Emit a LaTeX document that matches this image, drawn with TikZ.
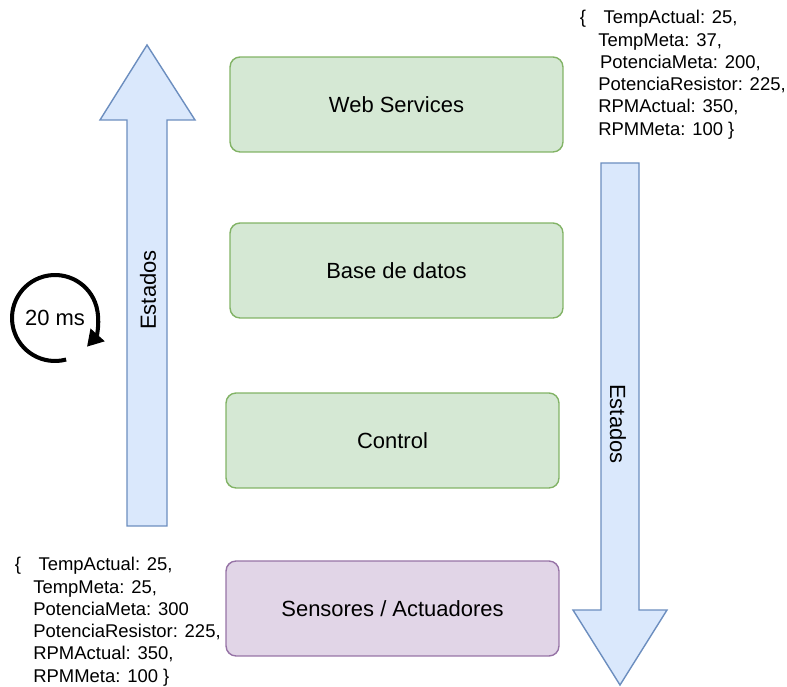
\documentclass[tikz,border=0pt]{standalone}
\usepackage{fontspec}
\setmainfont{Liberation Sans}
\usetikzlibrary{positioning,
        arrows.meta}
\definecolor{verdeF}{HTML}{D5E8D4}
\definecolor{verdeB}{HTML}{82B366}
\definecolor{moradoF}{HTML}{E1D5E7}
\definecolor{moradoB}{HTML}{9673A6}
\definecolor{azulF}{HTML}{DAE8FC}
\definecolor{azulB}{HTML}{6C8EBF}

\begin{document}
\begin{tikzpicture}[x=0.02cm,y=0.02cm,
        caja/.style={draw=verdeB,fill=verdeF,rounded corners=0.2cm,line width=0.8pt,
                minimum width=6.66cm,minimum height=1.9cm,font=\fontsize{12.5}{15}\selectfont},
        flecha/.style={draw=azulB,fill=azulF,line width=0.8pt,line join=miter},
        datos/.style={align=left,inner sep=0pt,anchor=north west,
                font=\fontsize{10.5}{12.7}\selectfont},
        etiqueta/.style={font=\fontsize{12.5}{15}\selectfont}]
            \useasboundingbox (0,0) rectangle (787,686);

            % flechas de estados
            \draw [flecha] (127,160) -- (127,566) -- (100,566) -- (147,641)
                -- (195,566) -- (167,566) -- (167,160) -- cycle;
            \draw [flecha] (601,523) -- (601,76) -- (573,76) -- (620,1)
                -- (667,76) -- (639,76) -- (639,523) -- cycle;
            \node [etiqueta,rotate=90] (estSube) at (148,396) {Estados};
            \node [etiqueta,rotate=-90] (estBaja) at (618,262) {Estados};

            % capas
            \node [caja] (web) at (396.5,581.5) {Web Services};
            \node [caja] (bd) at (396.5,415.5) {Base de datos};
            \node [caja] (ctrl) at (392.5,245.5) {Control};
            \node [caja,draw=moradoB,fill=moradoF] (sens) at (392.5,77.5) {Sensores / Actuadores};

            % ciclo
            \coordinate (ciclo) at (55,368);
            \node [etiqueta] (tiempo) at (ciclo) {20 ms};
            \draw [line width=2.3pt,-{Triangle[length=0.32cm,width=0.36cm]}]
                (ciclo) ++(285:0.86cm) arc [start angle=285,end angle=-42,radius=0.86cm];

            % datos
            \node [datos] (datosWeb) at (598,676) {\llap{\{\hspace{7pt}}\hspace{3pt}TempActual: 25,\\
                TempMeta: 37,\\
                \hspace{1pt}PotenciaMeta: 200,\\
                PotenciaResistor: 225,\\
                RPMActual: 350,\\
                RPMMeta: 100 \}};
            \node [datos] (datosSens) at (33,129) {\llap{\{\hspace{7pt}}\hspace{3pt}TempActual: 25,\\
                TempMeta: 25,\\
                PotenciaMeta: 300\\
                PotenciaResistor: 225,\\
                RPMActual: 350,\\
                RPMMeta: 100 \}};
        \end{tikzpicture}
\end{document}
